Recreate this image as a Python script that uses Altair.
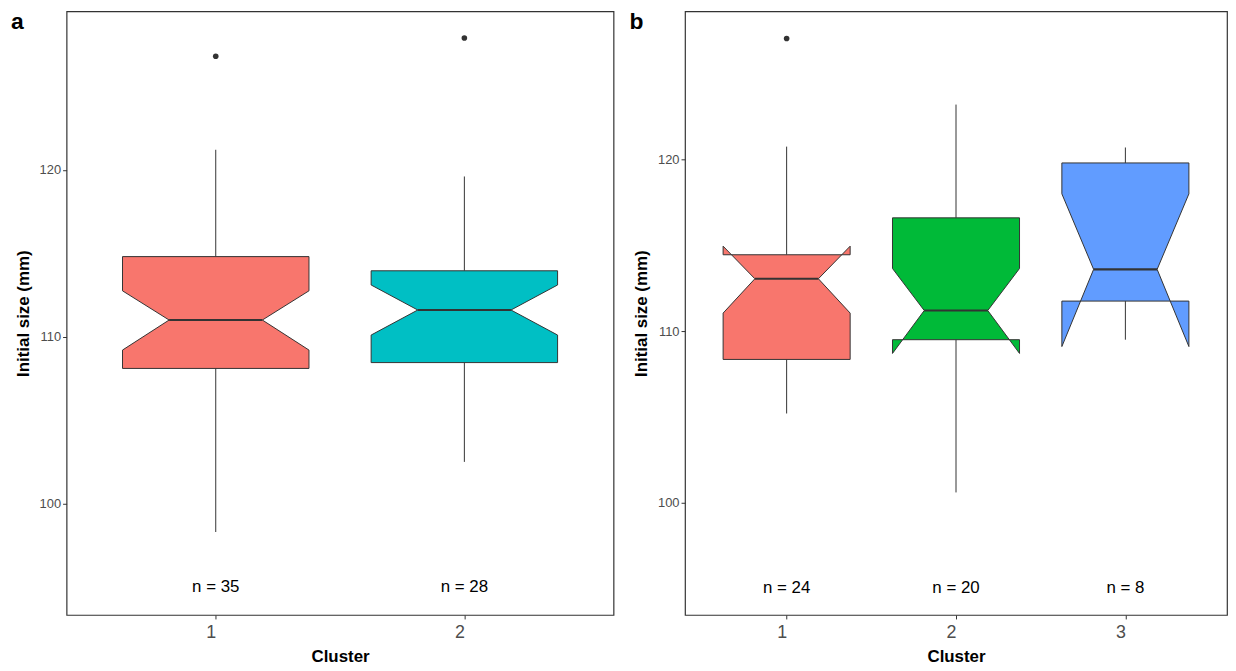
import altair as alt
import pandas as pd

# ---------------- data ----------------
# Panel a
a_clusters = [1, 2]
a_n = [35, 28]
a_whisker_low = [98.3, 102.5]
a_q1 = [108.1, 108.45]
a_median = [111.0, 111.6]
a_q3 = [114.8, 113.95]
a_whisker_high = [121.2, 119.6]
a_notch_low = [109.2, 110.1]
a_notch_high = [112.75, 113.1]
a_outlier_cluster = [1, 2]
a_outlier_value = [126.8, 127.9]
a_colors = ["#F8766D", "#00BFC4"]
a_ydomain = [93.33, 129.49]

# Panel b
b_clusters = [1, 2, 3]
b_n = [24, 20, 8]
b_whisker_low = [105.2, 100.6, 109.5]
b_q1 = [108.35, 109.5, 111.75]
b_median = [113.05, 111.2, 113.6]
b_q3 = [114.45, 116.6, 119.8]
b_whisker_high = [120.75, 123.2, 120.7]
b_notch_low = [111.05, 108.7, 109.1]
b_notch_high = [114.95, 113.65, 118.0]
b_outlier_cluster = [1]
b_outlier_value = [127.05]
b_colors = ["#F8766D", "#00BA38", "#619CFF"]
b_ydomain = [93.46, 128.63]

panel_labels = ["a", "b"]
y_ticks = [100, 110, 120]
n_label_y = 95
BOX_HALF = 0.375     # half of box width (0.75 of category step)
NOTCH_HALF = 0.1875  # half width at the notch (notchwidth 0.5)

FONT = "Liberation Sans"
DARK = "#333333"


def panel(label, clusters, n, wl, q1, med, q3, wh, nl, nh, oc, ov, colors, ydom, width, height):
    poly = []
    for i, c in enumerate(clusters):
        xs = [c - BOX_HALF, c + BOX_HALF, c + BOX_HALF, c + NOTCH_HALF, c + BOX_HALF,
              c + BOX_HALF, c - BOX_HALF, c - BOX_HALF, c - NOTCH_HALF, c - BOX_HALF]
        ys = [q3[i], q3[i], nh[i], med[i], nl[i], q1[i], q1[i], nl[i], med[i], nh[i]]
        for k, (xx, yy) in enumerate(zip(xs, ys)):
            poly.append({"cluster": f"{label}{c}", "vertex": k, "x": xx, "y": yy})
    poly_df = pd.DataFrame(poly)

    whisk = []
    for i, c in enumerate(clusters):
        whisk.append({"x": c, "y": q3[i], "y2": wh[i]})
        whisk.append({"x": c, "y": wl[i], "y2": q1[i]})
    whisk_df = pd.DataFrame(whisk)

    med_df = pd.DataFrame({"x": [c - NOTCH_HALF for c in clusters],
                           "x2": [c + NOTCH_HALF for c in clusters],
                           "y": med})
    out_df = pd.DataFrame({"x": oc, "y": ov})
    txt_df = pd.DataFrame({"x": clusters, "y": [n_label_y] * len(clusters),
                           "t": [f"n = {v}" for v in n]})

    xscale = alt.Scale(domain=[0.4, len(clusters) + 0.6], nice=False, zero=False)
    yscale = alt.Scale(domain=ydom, nice=False, zero=False)
    xaxis = alt.Axis(values=clusters, format="d", title="Cluster", grid=False, domain=False,
                     labelAlign="right", labelFontSize=18, labelColor="#4D4D4D",
                     labelPadding=5, tickSize=4, tickColor=DARK,
                     titleFontSize=17, titleFontWeight="bold", titleColor="black",
                     titlePadding=7, labelFont=FONT, titleFont=FONT)
    yaxis = alt.Axis(values=y_ticks, title="Initial size (mm)", grid=False, domain=False,
                     labelFontSize=13, labelColor="#4D4D4D", labelPadding=2,
                     tickSize=4, tickColor=DARK,
                     titleFontSize=17, titleFontWeight="bold", titleColor="black",
                     titlePadding=7, labelFont=FONT, titleFont=FONT)

    whiskers = alt.Chart(whisk_df).mark_rule(color=DARK, strokeWidth=1).encode(
        x=alt.X("x:Q", scale=xscale, axis=xaxis),
        y=alt.Y("y:Q", scale=yscale, axis=yaxis),
        y2="y2:Q",
    )
    boxes = alt.Chart(poly_df).mark_line(
        interpolate="linear-closed", stroke=DARK, strokeWidth=1, strokeJoin="miter"
    ).encode(
        x=alt.X("x:Q", scale=xscale),
        y=alt.Y("y:Q", scale=yscale),
        order=alt.Order("vertex:Q"),
        detail="cluster:N",
        fill=alt.Fill("cluster:N",
                      scale=alt.Scale(domain=[f"{label}{c}" for c in clusters], range=colors),
                      legend=None),
    )
    medians = alt.Chart(med_df).mark_rule(color=DARK, strokeWidth=2.2).encode(
        x=alt.X("x:Q", scale=xscale), x2="x2:Q", y=alt.Y("y:Q", scale=yscale)
    )
    outliers = alt.Chart(out_df).mark_circle(color=DARK, size=32, opacity=1).encode(
        x=alt.X("x:Q", scale=xscale), y=alt.Y("y:Q", scale=yscale)
    )
    texts = alt.Chart(txt_df).mark_text(fontSize=17, font=FONT, color="black", baseline="middle").encode(
        x=alt.X("x:Q", scale=xscale), y=alt.Y("y:Q", scale=yscale), text="t:N"
    )
    tag = alt.Chart(pd.DataFrame({"t": [label]})).mark_text(
        align="left", baseline="alphabetic", fontSize=23, fontWeight="bold", font=FONT, color="black"
    ).encode(x=alt.value(-56), y=alt.value(18), text="t:N")
    return alt.layer(whiskers, boxes, medians, outliers, texts, tag).properties(
        width=width, height=height
    )


pa = panel(panel_labels[0], a_clusters, a_n, a_whisker_low, a_q1, a_median, a_q3, a_whisker_high,
           a_notch_low, a_notch_high, a_outlier_cluster, a_outlier_value, a_colors,
           a_ydomain, 551, 608)
pb = panel(panel_labels[1], b_clusters, b_n, b_whisker_low, b_q1, b_median, b_q3, b_whisker_high,
           b_notch_low, b_notch_high, b_outlier_cluster, b_outlier_value, b_colors,
           b_ydomain, 546, 608)

chart = alt.hconcat(pa, pb, spacing=14).resolve_scale(fill="independent").properties(
    padding={"left": 2, "top": 0, "right": 0, "bottom": 0}
).configure(font=FONT, background="white").configure_view(stroke=DARK, strokeWidth=1.2)

chart.save("out.html", embed_options={"renderer": "svg", "actions": False})
